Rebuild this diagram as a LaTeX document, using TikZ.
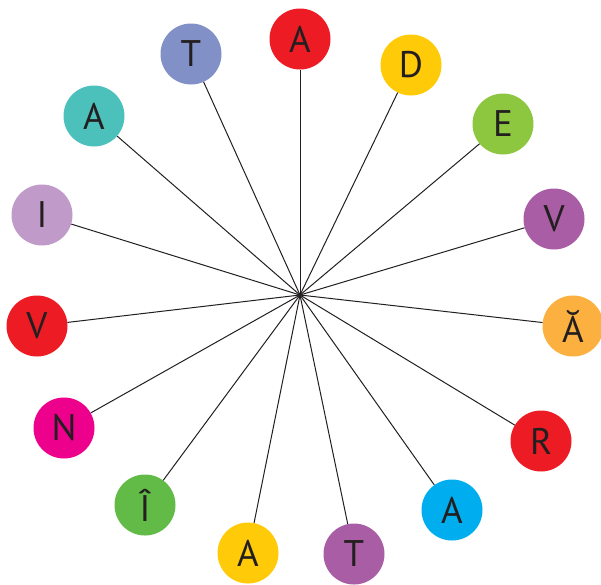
\documentclass[tikz,border=0pt]{standalone}
\usepackage{fontspec}
\setmainfont{PT Sans}
\usepackage{tikz}
\usetikzlibrary{calc,positioning}
\definecolor{myred}{HTML}{ED1C24}
\definecolor{myyellow}{HTML}{FFCB08}
\definecolor{mygreen}{HTML}{8DC63F}
\definecolor{mypurple}{HTML}{A95DA5}
\definecolor{myorange}{HTML}{FBB040}
\definecolor{myblue}{HTML}{00AEEF}
\definecolor{mydarkgreen}{HTML}{62BB46}
\definecolor{mymagenta}{HTML}{EC008C}
\definecolor{mylilac}{HTML}{C09AC8}
\definecolor{myteal}{HTML}{4CC1BC}
\definecolor{myslate}{HTML}{8190C6}
\definecolor{mytext}{HTML}{231F20}

\begin{document}
\begin{tikzpicture}[x=1pt, y=-1pt,
    letter/.style={circle, minimum size=61pt, inner sep=0pt, text=mytext,
      font=\fontsize{37}{37}\selectfont},
    spoke/.style={line width=1pt, mytext}]
  \useasboundingbox (0,0) rectangle (601,584);

  % Hub where all spokes meet
  \coordinate (hub) at (300,295);

  % Letter discs, clockwise from the top
  \foreach \k/\x/\y/\c/\t in {
      1/300/39/myred/A,
      2/411/65/myyellow/D,
      3/503/124/mygreen/E,
      4/554/219/mypurple/V,
      5/573/326/myorange/Ă,
      6/541/441/myred/R,
      7/452/510/myblue/A,
      8/354/554/mypurple/T,
      9/248/553/myyellow/A,
      10/145/505/mydarkgreen/Î,
      11/64/428/mymagenta/N,
      12/37/326/myred/V,
      13/42/215/mylilac/I,
      14/94/116/myteal/A,
      15/191/54/myslate/T} {
    \node[letter, fill=\c] (L\k) at (\x,\y) {\t};
  }

  % Spokes
  \foreach \k in {1,...,15} {
    \draw[spoke] (hub) -- (L\k);
  }
\end{tikzpicture}
\end{document}
